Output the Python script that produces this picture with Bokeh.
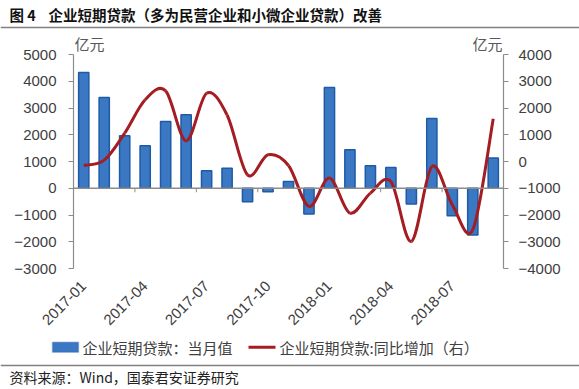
import math
from bokeh.plotting import figure
from bokeh.models import (Range1d, LinearAxis, FixedTicker, Label, Span, BoxAnnotation)
from bokeh.embed import file_html
from bokeh.resources import INLINE

# ---------------- data ----------------
months = ["2017-01", "2017-02", "2017-03", "2017-04", "2017-05", "2017-06", "2017-07",
          "2017-08", "2017-09", "2017-10", "2017-11", "2017-12", "2018-01", "2018-02",
          "2018-03", "2018-04", "2018-05", "2018-06", "2018-07", "2018-08", "2018-09"]
monthly_value = [4330, 3390, 1960, 1590, 2500, 2750, 650, 750, -500, -130, 250, -960,
                 3770, 1440, 840, 780, -590, 2610, -1030, -1750, 1130]
yoy_increase = [-150, 50, 1060, 2310, 2640, 770, 2550, 1740, -500, 250, -150, -1680,
                -620, -1930, -1180, -750, -2990, -190, -1620, -2550, 1600]
tick_months = ["2017-01", "2017-04", "2017-07", "2017-10", "2018-01", "2018-04", "2018-07"]
left_ticks = [-3000, -2000, -1000, 0, 1000, 2000, 3000, 4000, 5000]
right_ticks = [-4000, -3000, -2000, -1000, 0, 1000, 2000, 3000, 4000]
title_num = "图 4"
title_text = "企业短期贷款（多为民营企业和小微企业贷款）改善"
unit_text = "亿元"
bar_label = "企业短期贷款：当月值"
line_label = "企业短期贷款:同比增加（右）"
source_text = "资料来源：Wind，国泰君安证券研究"

# ---------------- styling / layout ----------------
W = 579
H_TOP, H_MAIN, H_BOT = 30, 306, 53
ML, MR, MT = 73, 76, 2
FRAME_H = 236
MB = H_MAIN - MT - FRAME_H
FW = W - ML - MR

CJK = "Noto Sans CJK SC"
NUM = "Liberation Sans"
AXIS_COL = "#8C8C8C"
TXT_COL = "#404040"
BAR_FILL = "#3B78C4"
BAR_LINE = "#1F5AA6"
LINE_COL = "#A51C22"
SEP_COL = "#808080"


def blank_figure(h):
    f = figure(width=W, height=h, output_backend="svg", toolbar_location=None,
               x_range=Range1d(0, W), y_range=Range1d(0, h),
               x_axis_location=None, y_axis_location=None,
               min_border=0, min_border_left=0, min_border_right=0,
               min_border_top=0, min_border_bottom=0)
    f.grid.visible = False
    f.outline_line_color = None
    f.background_fill_color = "white"
    f.border_fill_color = "white"
    return f


# ---------- top: title + separator ----------
top = blank_figure(H_TOP)
top.add_layout(Label(x=9, y=H_TOP - 14, text=title_num, text_font=CJK,
                     text_font_size="14.5px", text_font_style="bold",
                     text_color="#111111", text_baseline="middle"))
top.add_layout(Label(x=48, y=H_TOP - 14, text=title_text, text_font=CJK,
                     text_font_size="14.5px", text_font_style="bold",
                     text_color="#111111", text_baseline="middle"))
top.add_layout(Span(location=H_TOP - 27, dimension="width",
                    line_color=SEP_COL, line_width=1.5))

# ---------- main chart ----------
xs = list(range(len(months)))
l_span = left_ticks[-1] - left_ticks[0]
extra = FRAME_H * l_span / 214.0 - l_span   # room above the top tick for the unit labels

p = figure(width=W, height=H_MAIN, output_backend="svg", toolbar_location=None,
           x_range=Range1d(-0.5, len(months) - 0.5),
           y_range=Range1d(left_ticks[0], left_ticks[-1] + extra),
           min_border_left=ML, min_border_right=MR, min_border_top=MT, min_border_bottom=MB)
p.extra_y_ranges = {"right": Range1d(right_ticks[0], right_ticks[-1] + extra)}
p.outline_line_color = None
p.xgrid.visible = False
p.ygrid.visible = False
p.background_fill_color = "white"
p.border_fill_color = "white"


def style_y(ax, ticks, standoff):
    ax.ticker = FixedTicker(ticks=ticks)
    ax.bounds = (ticks[0], ticks[-1])
    ax.axis_line_color = AXIS_COL
    ax.axis_line_width = 1.2
    ax.major_tick_line_color = AXIS_COL
    ax.major_tick_out = 5
    ax.major_tick_in = 0
    ax.minor_tick_line_color = None
    ax.major_label_text_font = NUM
    ax.major_label_text_font_size = "15px"
    ax.major_label_text_color = TXT_COL
    ax.major_label_standoff = standoff


style_y(p.yaxis[0], left_ticks, 12)
ra = LinearAxis(y_range_name="right")
style_y(ra, right_ticks, 10)
p.add_layout(ra, "right")

xa = p.xaxis[0]
xa.ticker = FixedTicker(ticks=[months.index(m) for m in tick_months])
xa.major_label_overrides = {months.index(m): m for m in tick_months}
xa.major_label_orientation = math.pi / 4
xa.axis_line_color = None
xa.major_tick_line_color = None
xa.minor_tick_line_color = None
xa.major_label_text_font = NUM
xa.major_label_text_font_size = "15px"
xa.major_label_text_color = TXT_COL
xa.major_label_standoff = 9

# zero line with small category tick marks between every third month
p.add_layout(Span(location=0, dimension="width", line_color=AXIS_COL, line_width=1.5))
boundary_x = [months.index(m) - 0.5 for m in tick_months[1:]]
tick_len = 150  # in left-axis units (~4px)
p.segment(x0=boundary_x, y0=[0] * len(boundary_x), x1=boundary_x,
          y1=[-tick_len] * len(boundary_x), line_color=AXIS_COL, line_width=1)

bars = p.vbar(x=xs, top=monthly_value, bottom=0, width=0.5,
              fill_color=BAR_FILL, line_color=BAR_LINE, line_width=1.5)

# smooth line through the data points (Catmull-Rom as Bezier segments)
n = len(xs)
x0, y0, x1, y1, cx0, cy0, cx1, cy1 = [], [], [], [], [], [], [], []
for i in range(n - 1):
    im1 = max(i - 1, 0)
    ip2 = min(i + 2, n - 1)
    x0.append(xs[i]); y0.append(yoy_increase[i])
    x1.append(xs[i + 1]); y1.append(yoy_increase[i + 1])
    cx0.append(xs[i] + (xs[i + 1] - xs[im1]) / 6)
    cy0.append(yoy_increase[i] + (yoy_increase[i + 1] - yoy_increase[im1]) / 6)
    cx1.append(xs[i + 1] - (xs[ip2] - xs[i]) / 6)
    cy1.append(yoy_increase[i + 1] - (yoy_increase[ip2] - yoy_increase[i]) / 6)
p.bezier(x0=x0, y0=y0, x1=x1, y1=y1, cx0=cx0, cy0=cy0, cx1=cx1, cy1=cy1,
         line_color=LINE_COL, line_width=3, y_range_name="right")

# unit labels at the top of each axis
p.add_layout(Label(x=16, y=FRAME_H - 11, x_units="screen", y_units="screen",
                   text=unit_text, text_font=CJK, text_font_size="15px",
                   text_color="#595959", text_align="center", text_baseline="middle"))
p.add_layout(Label(x=FW - 16, y=FRAME_H - 11, x_units="screen", y_units="screen",
                   text=unit_text, text_font=CJK, text_font_size="15px",
                   text_color="#595959", text_align="center", text_baseline="middle"))

# ---------- bottom: legend + separator + source ----------
bot = blank_figure(H_BOT)
LEG_Y = H_BOT - 10.7
bot.add_layout(BoxAnnotation(left=52, right=78, bottom=LEG_Y - 5, top=LEG_Y + 5,
                             fill_color=BAR_FILL, fill_alpha=1,
                             line_color=BAR_LINE, line_width=1.5))
bot.add_layout(Label(x=82, y=LEG_Y, text=bar_label, text_font=CJK, text_font_size="15px",
                     text_color=TXT_COL, text_baseline="middle"))
bot.add_layout(BoxAnnotation(left=248, right=275, bottom=LEG_Y - 1.5, top=LEG_Y + 1.5,
                             fill_color=LINE_COL, fill_alpha=1, line_color=None))
bot.add_layout(Label(x=279, y=LEG_Y, text=line_label, text_font=CJK, text_font_size="15px",
                     text_color=TXT_COL, text_baseline="middle"))
bot.add_layout(Span(location=H_BOT - 29, dimension="width",
                    line_color=SEP_COL, line_width=1.5))
bot.add_layout(Label(x=9, y=H_BOT - 40, text=source_text, text_font=CJK,
                     text_font_size="14px", text_color="#222222", text_baseline="middle"))

# three separate roots stacked on the page (no frame alignment between them)
open("out.html", "w").write(file_html([top, p, bot], INLINE))
